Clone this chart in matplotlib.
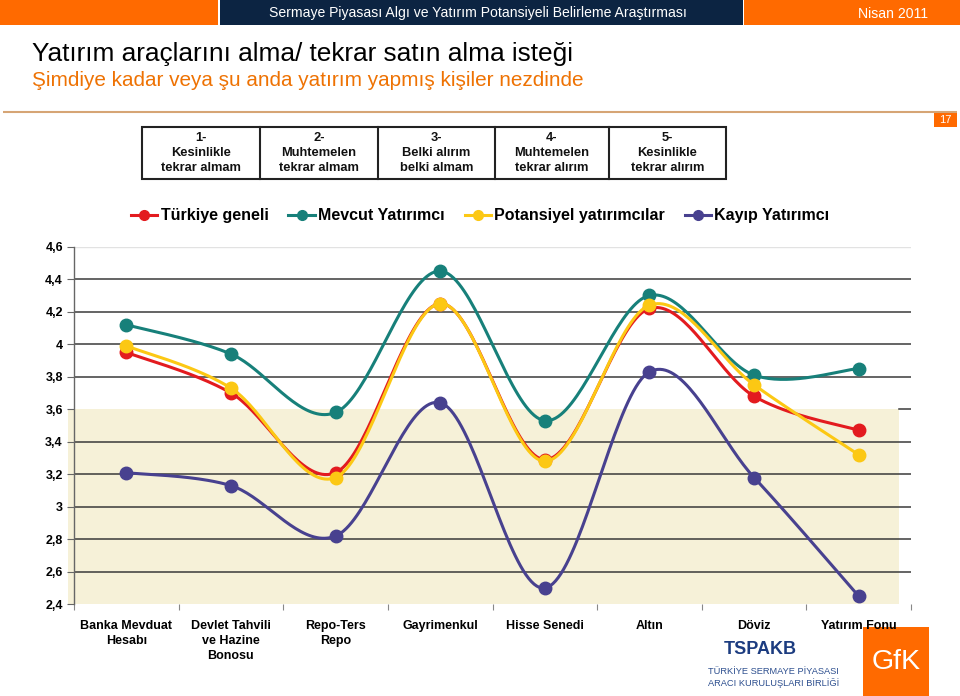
import numpy as np
import matplotlib
matplotlib.use('Agg')
import matplotlib.pyplot as plt
from matplotlib.patches import Rectangle
from matplotlib.lines import Line2D
from matplotlib import font_manager

# ---------------- data ----------------
categories = ["Banka Mevduat\nHesabı", "Devlet Tahvili\nve Hazine\nBonosu", "Repo-Ters\nRepo",
              "Gayrimenkul", "Hisse Senedi", "Altın", "Döviz", "Yatırım Fonu"]
turkiye_geneli = [3.95, 3.70, 3.21, 4.25, 3.29, 4.22, 3.68, 3.47]
mevcut_yatirimci = [4.12, 3.94, 3.58, 4.45, 3.53, 4.30, 3.81, 3.85]
potansiyel = [3.99, 3.73, 3.18, 4.25, 3.28, 4.24, 3.75, 3.32]
kayip = [3.21, 3.13, 2.82, 3.64, 2.50, 3.83, 3.18, 2.45]
series_names = ["Türkiye geneli", "Mevcut Yatırımcı", "Potansiyel yatırımcılar", "Kayıp Yatırımcı"]
series_colors = ["#e31b1f", "#17807a", "#fcc814", "#48418f"]
y_ticks = [2.4, 2.6, 2.8, 3.0, 3.2, 3.4, 3.6, 3.8, 4.0, 4.2, 4.4, 4.6]
y_tick_labels = ["2,4", "2,6", "2,8", "3", "3,2", "3,4", "3,6", "3,8", "4", "4,2", "4,4", "4,6"]
scale_labels = ["1-\nKesinlikle\ntekrar almam", "2-\nMuhtemelen\ntekrar almam",
                "3-\nBelki alırım\nbelki almam", "4-\nMuhtemelen\ntekrar alırım",
                "5-\nKesinlikle\ntekrar alırım"]
shade_limit = 3.6

names = {f.name for f in font_manager.fontManager.ttflist}
SANS = "Liberation Sans"
NARROW = "Liberation Sans Narrow" if "Liberation Sans Narrow" in names else SANS
plt.rcParams['font.family'] = [SANS, 'DejaVu Sans']

W, H = 960, 696
fig = plt.figure(figsize=(W / 100, H / 100), dpi=100)

# background overlay in pixel coords
bg = fig.add_axes([0, 0, 1, 1])
bg.set_xlim(0, W)
bg.set_ylim(H, 0)
bg.axis('off')
bg.set_zorder(0)

renderer = fig.canvas.get_renderer()


def fit(t, width):
    fs = t.get_fontsize()
    for _ in range(3):
        w = t.get_window_extent(renderer).width
        fs = fs * width / w
        t.set_fontsize(fs)
    return t


# header bars
ORANGE = "#ff6a00"
NAVY = "#0c2442"
bg.add_patch(Rectangle((0, 0), 218, 25, color=ORANGE, lw=0))
bg.add_patch(Rectangle((219.5, 0), 523, 25, color=NAVY, lw=0))
bg.add_patch(Rectangle((744, 0), 216, 25, color=ORANGE, lw=0))
t = bg.text(478, 13.5, "Sermaye Piyasası Algı ve Yatırım Potansiyeli Belirleme Araştırması",
            color="white", ha="center", va="center", fontsize=10, family=[NARROW, 'DejaVu Sans'])
fit(t, 420)
t = bg.text(893, 13.5, "Nisan 2011", color="white", ha="center", va="center",
            fontsize=10, family=[NARROW, 'DejaVu Sans'])
fit(t, 70)

# titles
t = bg.text(32, 54, "Yatırım araçlarını alma/ tekrar satın alma isteği", color="black",
            ha="left", va="center", fontsize=18, family=[NARROW, 'DejaVu Sans'])
fit(t, 543)
t = bg.text(32, 81, "Şimdiye kadar veya şu anda yatırım yapmış kişiler nezdinde", color="#ee7203",
            ha="left", va="center", fontsize=15, family=[NARROW, 'DejaVu Sans'])
fit(t, 552)

# separator line and page number
bg.plot([3, 957], [112, 112], color="#d6a575", lw=1.5, solid_capstyle='butt')
bg.add_patch(Rectangle((934, 113), 23, 14, color=ORANGE, lw=0))
bg.text(945.5, 120, "17", color="white", ha="center", va="center", fontsize=8)

# scale table
edges = [142, 260, 378, 495, 609, 726]
bg.add_patch(Rectangle((edges[0], 127), edges[-1] - edges[0], 52, fill=False, ec="#222222", lw=1.5))
for e in edges[1:-1]:
    bg.plot([e, e], [127, 179], color="#222222", lw=1.5)
for i, lab in enumerate(scale_labels):
    bg.text((edges[i] + edges[i + 1]) / 2, 153, lab, ha="center", va="center",
            fontsize=9.3, fontweight="bold", linespacing=1.3, color="#111111")

# logos
bg.add_patch(Rectangle((863, 627), 66, 69, color=ORANGE, lw=0))
bg.text(896, 662, "GfK", color="white", ha="center", va="center", fontsize=20.5)
bg.text(760, 649, "TSPAKB", color="#1c3c80", ha="center", va="center", fontsize=13,
        fontweight="bold", family=[NARROW, 'DejaVu Sans'])
bg.text(708, 671, "TÜRKİYE SERMAYE PİYASASI", color="#2d4f8f", ha="left", va="center", fontsize=6.7)
bg.text(708, 683, "ARACI KURULUŞLARI BİRLİĞİ", color="#2d4f8f", ha="left", va="center", fontsize=6.7)

# ---------------- chart ----------------
ax_l, ax_r, ax_t, ax_b = 74, 911, 246.7, 604.3
ax = fig.add_axes([ax_l / W, 1 - ax_b / H, (ax_r - ax_l) / W, (ax_b - ax_t) / H])
ax.set_zorder(1)
ax.patch.set_visible(False)
n = len(categories)
ax.set_xlim(-0.5, n - 0.5)
ax.set_ylim(y_ticks[0], y_ticks[-1])
upp = (ax_r - ax_l) / n  # pixels per category
x_sh0 = -0.5 + (68 - ax_l) / upp
x_sh1 = -0.5 + (899 - ax_l) / upp
ax.add_patch(Rectangle((x_sh0, y_ticks[0]), x_sh1 - x_sh0, shade_limit - y_ticks[0],
                       color="#f6f1d8", lw=0, zorder=0, clip_on=False))

for v in y_ticks[1:-1]:
    if abs(v - shade_limit) < 1e-9:
        ax.axhline(v, xmin=(899 - ax_l) / (ax_r - ax_l), xmax=1, color="#3a3a3a", lw=1.1, zorder=1)
    else:
        ax.axhline(v, color="#3a3a3a", lw=1.1, zorder=1)
ax.axhline(y_ticks[-1], color="#e2e2e2", lw=1.0, zorder=1)

for s in ["top", "right", "bottom"]:
    ax.spines[s].set_visible(False)
ax.spines["left"].set_color("#666666")
ax.spines["left"].set_linewidth(1.0)

ax.set_yticks(y_ticks)
ax.set_yticklabels(y_tick_labels, fontsize=9, fontweight="bold")
ax.tick_params(axis="y", direction="out", length=5, color="#666666", pad=3)
ax.set_xticks(np.arange(-0.5, n, 1.0))
ax.set_xticklabels([])
ax.tick_params(axis="x", which="major", direction="out", length=4, color="#888888")
ax.set_xticks(np.arange(n), minor=True)
ax.set_xticklabels(categories, minor=True, fontsize=9, fontweight="bold", linespacing=1.35, va="top")
ax.tick_params(axis="x", which="minor", length=0, pad=11)


def smooth(xs, ys, steps=40):
    xs = np.asarray(xs, float)
    ys = np.asarray(ys, float)
    P = np.column_stack([xs, ys])
    Pe = np.vstack([P[0], P, P[-1]])
    out = []
    for i in range(len(P) - 1):
        p0, p1, p2, p3 = Pe[i], Pe[i + 1], Pe[i + 2], Pe[i + 3]
        c1 = p1 + (p2 - p0) / 6.0
        c2 = p2 - (p3 - p1) / 6.0
        tt = np.linspace(0, 1, steps)[:, None]
        seg = ((1 - tt) ** 3) * p1 + 3 * ((1 - tt) ** 2) * tt * c1 + 3 * (1 - tt) * tt ** 2 * c2 + tt ** 3 * p2
        out.append(seg if i == 0 else seg[1:])
    out = np.vstack(out)
    return out[:, 0], out[:, 1]


xs = np.arange(n)
all_series = [turkiye_geneli, mevcut_yatirimci, potansiyel, kayip]
for k, (vals, col) in enumerate(zip(all_series, series_colors)):
    sx, sy = smooth(xs, vals)
    ax.plot(sx, sy, color=col, lw=2.2, zorder=3 + k, solid_capstyle="round")
    ax.plot(xs, vals, "o", color=col, ms=9, zorder=3 + k, mec=col)

handles = [Line2D([0], [0], color=c, lw=2.2, marker="o", ms=7) for c in series_colors]
fig.legend(handles, series_names, loc="center left", bbox_to_anchor=(131 / W, 1 - 216 / H),
           ncol=4, frameon=False, borderpad=0, borderaxespad=0, handlelength=1.65,
           handletextpad=0.2, columnspacing=1.25,
           prop={"family": SANS, "weight": "bold", "size": 11.5})

fig.savefig("out.png", dpi=100)
